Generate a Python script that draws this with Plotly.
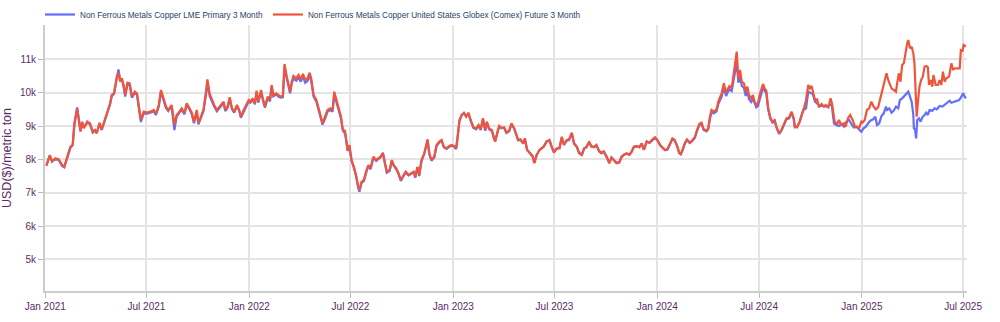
import pandas as pd
import plotly.graph_objects as go

BASE_DATE = "2021-01-01"

# Day offsets from BASE_DATE shared by both series (Jan 2021 - Aug 2024)
DAYS_EARLY = [
    2, 8, 12, 18, 24, 30, 34, 39, 45, 49, 52, 57, 60, 63, 66, 69, 75, 80, 85, 89,
    92, 97, 101, 106, 110, 116, 119, 123, 128, 131, 134, 137, 140, 143, 147, 151, 155, 160, 164, 167,
    171, 176, 182, 188, 194, 198, 203, 207, 212, 216, 220, 226, 231, 235, 240, 244, 249, 253, 258, 262,
    266,
    271, 274, 278, 283, 288, 290, 294, 298, 302, 307, 312, 316, 319, 322, 326, 330, 334, 338, 343, 347,
    350, 355, 359, 364, 367, 371, 375, 378, 381, 386, 389, 393, 398, 402, 405, 408, 413, 417, 421, 425,
    428, 432, 436, 438, 441, 444, 449, 453, 457, 461, 465, 469, 473, 476, 480, 485, 489, 493, 496, 501,
    505, 510, 514, 517, 521, 525, 529, 532, 535,
    536, 541, 544, 548, 552, 556, 560, 562, 566, 570, 574, 578, 582, 587, 592, 596, 600, 604, 607, 611,
    616, 620, 623, 628, 632, 636, 641, 645, 650, 654, 659, 662, 666, 669, 673, 678, 681, 684, 687, 691,
    696, 700, 705, 709, 713, 718, 723, 727, 731, 735, 737, 741, 745, 749, 753, 757, 761, 766, 771, 775,
    779, 783, 787, 790, 794, 799, 803,
    805, 809, 812, 816, 821, 825, 830, 834, 839, 842, 846, 850, 855, 858, 862, 867, 872, 875, 879, 884,
    888, 892, 897, 902, 906, 910, 915, 920, 924, 928, 933, 937, 942, 946, 951, 955, 960, 964, 968, 973,
    977, 982, 986, 991, 995, 999, 1004, 1009, 1013, 1017, 1022, 1027, 1031, 1035, 1040, 1045, 1049, 1053, 1058, 1063,
    1067, 1071,
    1076, 1081, 1085, 1091, 1095, 1100, 1104, 1109, 1113, 1117, 1122, 1126, 1131, 1134, 1137, 1140, 1144, 1148, 1153, 1158,
    1162, 1166, 1170, 1174, 1178, 1183, 1186, 1189, 1192, 1196, 1201, 1204, 1207, 1210, 1214, 1218, 1220, 1224, 1228, 1231,
    1234, 1237, 1240, 1243, 1246, 1250, 1253, 1256, 1259, 1263, 1266, 1269, 1272, 1275, 1278, 1281, 1284, 1287, 1290, 1293,
    1297, 1301, 1305, 1308, 1313, 1317, 1321, 1326, 1331, 1335, 1339,
]

COMEX_EARLY = [
    7800, 8130, 7930, 8030, 8000, 7830, 7780, 8080, 8380, 8430, 9080, 9530, 9230, 8830, 9130, 8930, 9130, 9080, 8830, 8880,
    8780, 9100, 8900, 9180, 9400, 9680, 9930, 9980, 10480, 10600, 10330, 10430, 10230, 9930, 10300, 10280, 9880, 10030, 9980, 9580,
    9180, 9430, 9400, 9430, 9480, 9360, 9630, 10080, 9780, 9580, 9480, 9630, 9030, 9330, 9430, 9530, 9380, 9680, 9530, 9400,
    9130,
    9480, 9080, 9280, 9480, 10080, 10400, 9980, 9780, 9630, 9480, 9580, 9680, 9730, 9480, 9580, 9860, 9530, 9430, 9630, 9480,
    9280, 9480, 9630, 9780, 9730, 9830, 9680, 10060, 9730, 10080, 9830, 9580, 9880, 9780, 10230, 9930, 9980, 9930, 9880, 9900,
    10860, 10480, 10180, 10030, 10330, 10500, 10430, 10530, 10400, 10560, 10380, 10430, 10600, 10400, 9930, 9780, 9530, 9280, 9080, 9300,
    9480, 9530, 9480, 10030, 9780, 9530, 9280, 8930, 8830,
    8880, 8280, 8430, 7980, 7780, 7530, 7180, 7080, 7330, 7380, 7630, 7830, 7730, 8080, 7980, 8030, 8080, 8180, 7930, 7630,
    7680, 7980, 7830, 7730, 7580, 7380, 7530, 7630, 7530, 7580, 7630, 7480, 7780, 7530, 7980, 8180, 8380, 8600, 8180, 7980,
    8080, 8430, 8530, 8580, 8380, 8330, 8400, 8430, 8400, 8330, 8580, 9180, 9330, 9380, 9280, 9400, 9180, 8960, 8930, 9030,
    8900, 9230, 8880, 9130, 8930, 8880, 8630,
    8530, 8830, 9000, 8930, 8960, 8800, 8860, 9080, 8930, 8780, 8580, 8600, 8480, 8630, 8280, 8180, 8080, 7880, 8130, 8280,
    8330, 8380, 8530, 8580, 8380, 8200, 8330, 8330, 8680, 8430, 8580, 8600, 8800, 8480, 8380, 8180, 8130, 8330, 8360, 8530,
    8380, 8360, 8430, 8230, 8180, 8230, 8080, 7880, 8060, 7980, 7880, 7900, 8080, 8130, 8180, 8130, 8230, 8380, 8400, 8360,
    8480, 8280,
    8530, 8500, 8580, 8660, 8580, 8430, 8360, 8280, 8300, 8460, 8630, 8580, 8380, 8200, 8160, 8280, 8480, 8600, 8500, 8580,
    8660, 8880, 9060, 9100, 8900, 8860, 8930, 9260, 9480, 9430, 9500, 9730, 9880, 9980, 10280, 9980, 10080, 10200, 10130, 10480,
    10780, 11230, 10430, 10680, 10330, 10280, 10030, 10180, 9930, 9830, 9930, 9730, 9630, 9680, 9930, 10080, 10260, 10130, 10060, 9580,
    9260, 9130, 9180, 8980, 8780, 8880, 9030, 9230, 9260, 9430, 9230,
]

LME_EARLY = [
    7830, 8100, 7950, 8000, 7990, 7800, 7760, 8050, 8350, 8420, 9020, 9560, 9180, 8850, 9090, 8950, 9100, 9050, 8800, 8860,
    8790, 9060, 8880, 9150, 9380, 9650, 9900, 9960, 10430, 10700, 10380, 10400, 10200, 9880, 10250, 10230, 9850, 9990, 9950, 9540,
    9120, 9380, 9370, 9400, 9440, 9330, 9580, 10020, 9740, 9540, 9450, 9600, 8880, 9280, 9400, 9490, 9350, 9640, 9500, 9360,
    9080,
    9430, 9050, 9230, 9440, 10000, 10350, 9900, 9720, 9590, 9440, 9530, 9630, 9690, 9450, 9540, 9800, 9500, 9400, 9600, 9450,
    9250, 9440, 9600, 9740, 9700, 9790, 9650, 10000, 9700, 10030, 9800, 9550, 9840, 9740, 10180, 9890, 9950, 9880, 9850, 9860,
    10750, 10400, 10100, 9980, 10280, 10420, 10360, 10450, 10330, 10480, 10300, 10350, 10520, 10330, 9880, 9730, 9480, 9220, 9040, 9240,
    9430, 9480, 9430, 9950, 9720, 9480, 9230, 8880, 8790,
    8820, 8250, 8400, 7950, 7750, 7490, 7130, 7030, 7300, 7350, 7600, 7810, 7700, 8060, 7950, 8010, 8070, 8200, 7900, 7600,
    7650, 7950, 7820, 7700, 7560, 7350, 7500, 7600, 7520, 7560, 7610, 7450, 7760, 7500, 7950, 8160, 8350, 8560, 8150, 7960,
    8060, 8400, 8510, 8560, 8360, 8310, 8380, 8410, 8390, 8310, 8550, 9150, 9330, 9400, 9290, 9380, 9160, 8940, 8900, 9010,
    8880, 9200, 8860, 9100, 8900, 8850, 8600,
    8560, 8800, 8980, 8950, 8940, 8790, 8840, 9050, 8920, 8770, 8570, 8590, 8470, 8610, 8290, 8200, 8100, 7900, 8120, 8270,
    8340, 8400, 8540, 8560, 8370, 8230, 8320, 8350, 8650, 8440, 8560, 8580, 8770, 8470, 8370, 8200, 8150, 8320, 8370, 8510,
    8390, 8380, 8420, 8250, 8200, 8240, 8090, 7900, 8050, 7990, 7900, 7920, 8070, 8140, 8170, 8150, 8220, 8370, 8390, 8370,
    8460, 8290,
    8540, 8490, 8560, 8640, 8570, 8420, 8350, 8270, 8290, 8440, 8600, 8560, 8370, 8190, 8150, 8270, 8460, 8580, 8490, 8560,
    8640, 8850, 9020, 9060, 8880, 8840, 8900, 9200, 9420, 9380, 9440, 9660, 9780, 9880, 10150, 9900, 9980, 10100, 10050, 10350,
    10620, 10900, 10300, 10500, 10200, 10150, 9900, 10050, 9800, 9720, 9820, 9650, 9560, 9600, 9820, 9970, 10150, 10050, 9980, 9520,
    9220, 9100, 9150, 8960, 8760, 8860, 9000, 9200, 9230, 9400, 9210,
]

# Sep 2024 - Jul 2025, where the two series diverge
COMEX_LATE_DAYS = [
    1341, 1345, 1349, 1353, 1357, 1361, 1365, 1368, 1371, 1374, 1377, 1381, 1384, 1389, 1393, 1396, 1401, 1405, 1408, 1412,
    1417, 1420, 1424, 1429, 1432, 1436, 1440, 1445, 1449, 1452, 1456, 1460, 1462, 1466, 1470, 1474, 1478, 1482, 1486, 1490,
    1494, 1498, 1502, 1505, 1508, 1511, 1514, 1518, 1522, 1524, 1527, 1530, 1533, 1536, 1539, 1542, 1544, 1547, 1550, 1553,
    1555, 1557, 1559, 1561, 1564, 1567, 1570, 1573, 1576, 1579, 1581, 1584, 1587, 1589, 1593, 1597, 1600, 1603, 1606, 1609,
    1612, 1617, 1621, 1624, 1629, 1633, 1636, 1638, 1641, 1643, 1647,
]
COMEX_LATE = [
    8980, 8960, 9100, 9330, 9500, 9780, 10230, 10130, 10200, 9980, 9780, 9800, 9560, 9660, 9580, 9630, 9560, 9830, 9630, 9130,
    9060, 9180, 9030, 9080, 8980, 9230, 9330, 9160, 8960, 8980, 8930, 9130, 9100, 9180, 9480, 9530, 9730, 9580, 9500, 9560,
    9830, 10130, 10380, 10580, 10380, 10280, 10130, 10080, 10030, 10280, 10580, 10330, 10830, 10880, 11260, 11480, 11580, 11330, 11380, 11180,
    10880, 9880, 9280, 9680, 10180, 10380, 10480, 10780, 10800, 10760, 10230, 10380, 10180, 10530, 10230, 10230, 10380, 10230, 10630, 10330,
    10430, 10480, 10880, 10700, 10730, 10730, 10730, 11280, 11260, 11430, 11380,
]
LME_LATE_DAYS = [
    1341, 1345, 1350, 1356, 1361, 1365, 1369, 1373, 1377, 1381, 1386, 1392, 1398, 1402, 1407, 1411, 1415, 1420, 1424, 1429,
    1433, 1438, 1442, 1446, 1451, 1456, 1460, 1464, 1468, 1472, 1476, 1481, 1485, 1488, 1492, 1496, 1500, 1504, 1506, 1510,
    1514, 1518, 1522, 1526, 1529, 1533, 1538, 1541, 1544, 1547, 1550, 1553, 1554, 1556, 1558, 1560, 1563, 1566, 1569, 1573,
    1576, 1579, 1582, 1587, 1591, 1595, 1600, 1605, 1609, 1613, 1618, 1621, 1625, 1630, 1635, 1639, 1642, 1645, 1647,
]
LME_LATE = [
    8960, 8980, 9130, 9480, 9530, 10030, 10000, 9960, 9730, 9680, 9600, 9600, 9580, 9630, 9630, 9080, 9030, 9000, 9060, 8980,
    9130, 9180, 9080, 8960, 8980, 8880, 8830, 8930, 8980, 9080, 9160, 9200, 9280, 9030, 9080, 9300, 9380, 9580, 9480, 9530,
    9400, 9460, 9580, 9530, 9780, 9830, 9930, 9980, 10030, 9880, 9730, 9330, 8930, 8900, 8630, 9180, 9230, 9130, 9260, 9330,
    9400, 9330, 9480, 9460, 9530, 9500, 9600, 9580, 9630, 9680, 9760, 9700, 9730, 9760, 9780, 9880, 9980, 9880, 9830,
]

SERIES_NAMES = [
    "Non Ferrous Metals Copper LME Primary 3 Month",
    "Non Ferrous Metals Copper United States Globex (Comex) Future 3 Month",
]
Y_TICKS = [5000, 6000, 7000, 8000, 9000, 10000, 11000]
Y_TICK_TEXT = ["5k", "6k", "7k", "8k", "9k", "10k", "11k"]


def to_dates(days):
    return pd.Timestamp(BASE_DATE) + pd.to_timedelta(days, unit="D")


lme_x = to_dates(DAYS_EARLY + LME_LATE_DAYS)
lme_y = LME_EARLY + LME_LATE
comex_x = to_dates(DAYS_EARLY + COMEX_LATE_DAYS)
comex_y = COMEX_EARLY + COMEX_LATE

PURPLE = "#5b2a68"
FONT = "Liberation Sans, Arial, sans-serif"

fig = go.Figure()
fig.add_trace(go.Scatter(x=lme_x, y=lme_y, mode="lines", name=SERIES_NAMES[0],
                         line=dict(color="#636efa", width=2.2)))
fig.add_trace(go.Scatter(x=comex_x, y=comex_y, mode="lines", name=SERIES_NAMES[1],
                         line=dict(color="#ef553b", width=2.2)))

fig.update_layout(
    width=1000, height=322,
    margin=dict(l=45, r=33, t=25, b=31, autoexpand=False),
    paper_bgcolor="white", plot_bgcolor="white",
    font=dict(family=FONT, color=PURPLE, size=10),
    showlegend=True,
    legend=dict(orientation="h", xref="container", x=0.040, xanchor="left",
                yref="container", y=1.0, yanchor="top",
                font=dict(size=8.2, color="#2a3f5f", family=FONT),
                bgcolor="rgba(0,0,0,0)", itemwidth=30),
    xaxis=dict(
        type="date",
        range=["2020-12-31 12:00", "2025-07-08"],
        tick0="2021-01-01", dtick="M6", tickformat="%b %Y",
        showgrid=True, gridcolor="#e4e4e4", gridwidth=1.5,
        showline=True, linecolor="#cccccc", linewidth=2,
        ticks="outside", ticklen=5, tickcolor="#bbbbbb",
        tickfont=dict(size=10, color=PURPLE, family=FONT),
        zeroline=False, automargin=False,
    ),
    yaxis=dict(
        range=[4050, 12030],
        tickvals=Y_TICKS, ticktext=Y_TICK_TEXT,
        showgrid=True, gridcolor="#e4e4e4", gridwidth=1.5,
        showline=True, linecolor="#cccccc", linewidth=2,
        ticks="outside", ticklen=5, tickcolor="#bbbbbb",
        tickfont=dict(size=10, color=PURPLE, family=FONT),
        title=dict(text="USD($)/metric ton", font=dict(size=12.5, color=PURPLE, family=FONT), standoff=6),
        zeroline=False, automargin=False,
    ),
)

fig.write_html("out.html")
